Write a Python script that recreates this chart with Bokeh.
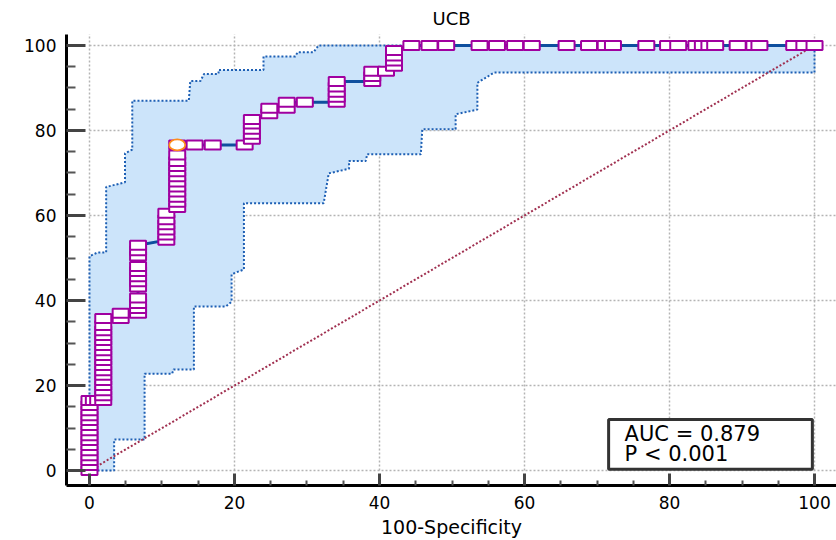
from bokeh.plotting import figure
from bokeh.models import Range1d, FixedTicker, BoxAnnotation, Label
from bokeh.embed import file_html
from bokeh.resources import INLINE

# ---------------- data ----------------
title_text = "UCB"
x_label = "100-Specificity"
auc_text = "AUC = 0.879"
p_text = "P < 0.001"

major_ticks = [0, 20, 40, 60, 80, 100]
minor_ticks = [5, 10, 15, 25, 30, 35, 45, 50, 55, 65, 70, 75, 85, 90, 95]

# ROC curve points (100-Specificity, Sensitivity)
roc_fpr = [0, 0, 0, 0, 0, 0, 0, 0, 0, 0, 0, 0, 0, 0, 0,
           0.6, 1.2,
           1.9, 1.9, 1.9, 1.9, 1.9, 1.9, 1.9, 1.9, 1.9, 1.9, 1.9, 1.9, 1.9, 1.9, 1.9, 1.9, 1.9,
           4.3, 4.3,
           6.7, 6.7, 6.7, 6.7, 6.7, 6.7, 6.7, 6.7, 6.7, 6.7, 6.7, 6.7,
           10.6, 10.6, 10.6, 10.6, 10.6, 10.6,
           12.1, 12.1, 12.1, 12.1, 12.1, 12.1, 12.1, 12.1, 12.1, 12.1, 12.1, 12.1,
           14.5, 17.0, 21.4,
           22.4, 22.4, 22.4, 22.4, 22.4,
           24.8, 24.8,
           27.2, 27.2,
           29.7,
           34.1, 34.1, 34.1, 34.1, 34.1,
           39.0, 39.0, 39.0,
           40.9,
           42.0, 42.0, 42.0, 42.0,
           44.4, 46.9, 49.2, 53.8, 56.2, 58.7, 61.0, 65.8, 68.9, 71.2, 72.2, 76.8,
           79.8, 81.2, 83.7, 84.6, 85.5, 86.3, 89.4, 91.7, 92.4, 97.2, 98.6, 100]
roc_tpr = [0, 1.2, 2.4, 3.5, 4.7, 5.9, 7.1, 8.2, 9.4, 10.6, 11.8, 12.9, 14.1, 15.3, 16.5,
           16.5, 16.5,
           16.5, 17.6, 18.8, 20.0, 21.2, 22.4, 23.5, 24.7, 25.9, 27.1, 28.2, 29.4, 30.6, 31.8, 32.9, 34.1, 35.8,
           35.8, 37.0,
           37.0, 38.1, 39.3, 40.6, 43.2, 44.4, 45.6, 46.8, 48.0, 50.5, 51.7, 53.0,
           54.2, 55.4, 56.6, 57.8, 59.0, 60.5,
           61.9, 63.1, 64.3, 65.5, 66.7, 67.9, 69.1, 70.3, 71.5, 72.7, 74.2, 76.6,
           76.6, 76.6, 76.6,
           77.9, 79.1, 80.3, 81.5, 82.6,
           83.9, 85.2,
           85.2, 86.6,
           86.6,
           86.6, 87.8, 89.0, 90.2, 91.5,
           91.5, 92.7, 93.9,
           93.9,
           95.1, 96.3, 97.5, 98.8,
           100, 100, 100, 100, 100, 100, 100, 100, 100, 100, 100, 100,
           100, 100, 100, 100, 100, 100, 100, 100, 100, 100, 100, 100]

# optimal criterion point
opt_fpr = [12.1]
opt_tpr = [76.6]

# 95% confidence bounds
ci_up_x = [0, 0, 1.1, 2.3, 2.3, 4.9, 4.9, 5.9, 5.9, 13.7, 13.9, 15.3, 15.8, 17.8, 17.8,
           24.0, 24.0, 28.4, 28.7, 30.9, 31.6, 100]
ci_up_y = [0, 50.4, 51.3, 51.3, 66.7, 67.8, 74.6, 75.5, 87.0, 87.0, 91.6, 91.6, 93.3, 93.3, 94.2,
           94.2, 97.4, 97.4, 98.4, 98.4, 100, 100]
ci_lo_x = [0, 3.4, 3.4, 7.6, 7.6, 11.4, 11.6, 14.4, 14.4, 18.8, 19.6, 19.6, 21.3, 21.3,
           32.3, 33.0, 35.8, 35.8, 38.1, 38.3, 45.7, 45.9, 50.5, 50.5, 53.5, 53.5, 55.8, 100, 100]
ci_lo_y = [0, 0, 7.3, 7.3, 22.8, 22.8, 23.8, 23.8, 38.6, 38.6, 39.7, 46.2, 47.3, 62.9,
           62.9, 69.9, 71.0, 72.8, 72.8, 74.4, 74.4, 80.3, 80.3, 83.8, 84.9, 91.2, 93.6, 93.6, 100]

# reference diagonal
diag_x = [0, 100]
diag_y = [0, 100]

# ---------------- figure ----------------
FONT = "DejaVu Sans"

p = figure(width=836, height=540,
           x_range=Range1d(-3.17, 103.03), y_range=Range1d(-3.5, 102.56),
           output_backend="svg", toolbar_location=None,
           min_border_left=66, min_border_right=0, min_border_top=33, min_border_bottom=52)
p.outline_line_color = None
p.background_fill_color = "white"

p.title.text = title_text
p.title.align = "center"
p.title.text_font = FONT
p.title.text_font_size = "18px"
p.title.text_font_style = "normal"
p.title.text_color = "black"
p.title.standoff = 11
p.title.offset = 5

# axes
for ax in (p.xaxis[0], p.yaxis[0]):
    ax.ticker = FixedTicker(ticks=major_ticks, minor_ticks=minor_ticks)
    ax.axis_line_width = 3
    ax.axis_line_color = "black"
    ax.major_tick_out = 0
    ax.minor_tick_out = 0
    ax.major_tick_line_color = "#444444"
    ax.major_tick_line_width = 3
    ax.minor_tick_line_color = "#555555"
    ax.minor_tick_line_width = 2
    ax.major_label_text_font = FONT
    ax.major_label_text_font_size = "17px"
    ax.major_label_text_color = "black"

p.yaxis.major_tick_in = 19
p.yaxis.minor_tick_in = 9
p.yaxis.major_label_standoff = 10
p.xaxis.major_tick_in = 12
p.xaxis.minor_tick_in = 5
p.xaxis.major_label_standoff = 10
p.xaxis.axis_label = x_label
p.xaxis.axis_label_text_font = FONT
p.xaxis.axis_label_text_font_size = "19px"
p.xaxis.axis_label_text_font_style = "normal"
p.xaxis.axis_label_text_color = "black"
p.xaxis.axis_label_standoff = 4

# grids
for g in (p.xgrid[0], p.ygrid[0]):
    g.grid_line_color = "#b4b4b4"
    g.grid_line_dash = "2 2"
    g.grid_line_width = 1.5
    g.cross_bounds = (0, 110)

# confidence band
band_x = ci_up_x + ci_lo_x[::-1]
band_y = ci_up_y + ci_lo_y[::-1]
p.patch(band_x, band_y, fill_color="#cce4fa", line_color=None)
p.line(ci_up_x, ci_up_y, line_color="#1d5fb4", line_width=2, line_dash="2 2")
p.line(ci_lo_x, ci_lo_y, line_color="#1d5fb4", line_width=2, line_dash="2 2")

# diagonal
p.line(diag_x, diag_y, line_color="#a03050", line_width=2, line_dash="2 2")

# ROC curve
p.line(roc_fpr, roc_tpr, line_color="#0e4f9e", line_width=3)
p.rect(roc_fpr, roc_tpr, width=16, height=9, width_units="screen", height_units="screen",
       fill_color="white", line_color="#a000a0", line_width=2)
p.ellipse(opt_fpr, opt_tpr, width=16, height=11, width_units="screen", height_units="screen",
          fill_color="white", line_color="#ff8c1a", line_width=1.8)

# AUC box
box = BoxAnnotation(left=71.6, right=99.7, bottom=0.3, top=12.0,
                    fill_color="white", fill_alpha=1.0,
                    line_color="#333333", line_width=3, line_alpha=1.0)
p.add_layout(box)
p.add_layout(Label(x=73.8, y=8.6, text=auc_text, text_font=FONT, text_font_size="21px",
                   text_baseline="middle", text_color="black"))
p.add_layout(Label(x=73.8, y=3.8, text=p_text, text_font=FONT, text_font_size="21px",
                   text_baseline="middle", text_color="black"))

open("out.html", "w").write(file_html(p, INLINE))
